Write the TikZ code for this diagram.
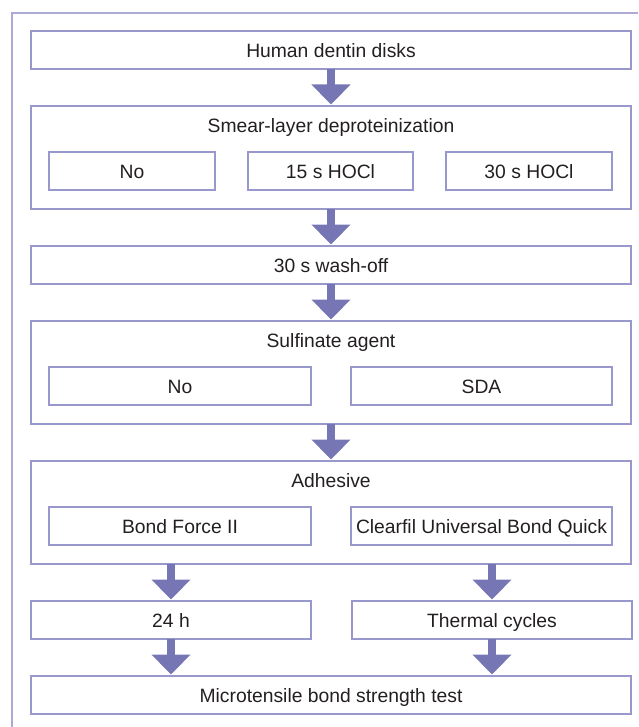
\documentclass[tikz,border=0pt]{standalone}
\usepackage{fontspec}
\setmainfont{Liberation Sans}
\usepackage{tikz}
\usetikzlibrary{positioning,arrows.meta}
\definecolor{ink}{HTML}{231F20}
\definecolor{frame}{HTML}{9898CC}
\definecolor{outline}{HTML}{ABABD6}
\definecolor{arrowc}{HTML}{7676B4}

\begin{document}
\begin{tikzpicture}[x=1pt,y=1pt,every node/.style={font=\fontsize{19.3}{22}\selectfont,text=ink,text height=16pt,text depth=0.5pt},
    box/.style={draw=frame,line width=1.2pt,outer sep=0pt,inner sep=0pt,minimum height=38pt,align=center},
    wide/.style={box,minimum width=600pt},
    group/.style={draw=frame,line width=1.2pt,outer sep=0pt,inner sep=0pt,minimum width=600pt,minimum height=103pt},
    sub/.style={box,minimum width=#1},
    flow/.style={line width=8pt,draw=arrowc,-{Triangle[width=38pt,length=20pt]},shorten >=1.5pt}]
    \useasboundingbox (0,0) rectangle (638,-727);
    \draw[outline,line width=1.8pt] (12,-727) |- (638,-13);

    \node[wide] (disks) at (331,-50) {Human dentin disks};
    % smear layer
    \node[group,below=37pt of disks] (smear) {};
    \node[below=19pt of smear.north,anchor=center] (smeart) {Smear-layer deproteinization};
    \node[sub=166pt,below right=46pt and 18pt of smear.north west] (s0) {No};
    \node[sub=165pt,right=33pt of s0] (s15) {15 s HOCl};
    \node[sub=166pt,right=33pt of s15] (s30) {30 s HOCl};
    \node[wide,below=37pt of smear] (wash) {30 s wash-off};
    % sulfinate
    \node[group,below=37pt of wash] (sulf) {};
    \node[below=19pt of sulf.north,anchor=center] (sulft) {Sulfinate agent};
    \node[sub=262pt,below right=46pt and 18pt of sulf.north west] (sno) {No};
    \node[sub=261pt,right=40pt of sno] (sda) {SDA};
    % adhesive
    \node[group,below=37pt of sulf] (adh) {};
    \node[below=19pt of adh.north,anchor=center] (adht) {Adhesive};
    \node[sub=262pt,below right=46pt and 18pt of adh.north west] (bf) {Bond Force II};
    \node[sub=261pt,right=40pt of bf] (cu) {Clearfil Universal Bond Quick};
    \node[sub=280pt,below right=37pt and 0pt of adh.south west] (h24) {24 h};
    \node[sub=280pt,below left=37pt and -1pt of adh.south east] (tc) {Thermal cycles};
    \node[wide,below=37pt of h24.south west,anchor=north west] (mtbs) {Microtensile bond strength test};

    \draw[flow] (disks) -- (smear);
    \draw[flow] (smear) -- (wash);
    \draw[flow] (wash) -- (sulf);
    \draw[flow] (sulf) -- (adh);
    \draw[flow] (h24.north |- adh.south) -- (h24);
    \draw[flow] (tc.north |- adh.south) -- (tc);
    \draw[flow] (h24) -- (h24.center |- mtbs.north);
    \draw[flow] (tc) -- (tc.center |- mtbs.north);
  \end{tikzpicture}
\end{document}
